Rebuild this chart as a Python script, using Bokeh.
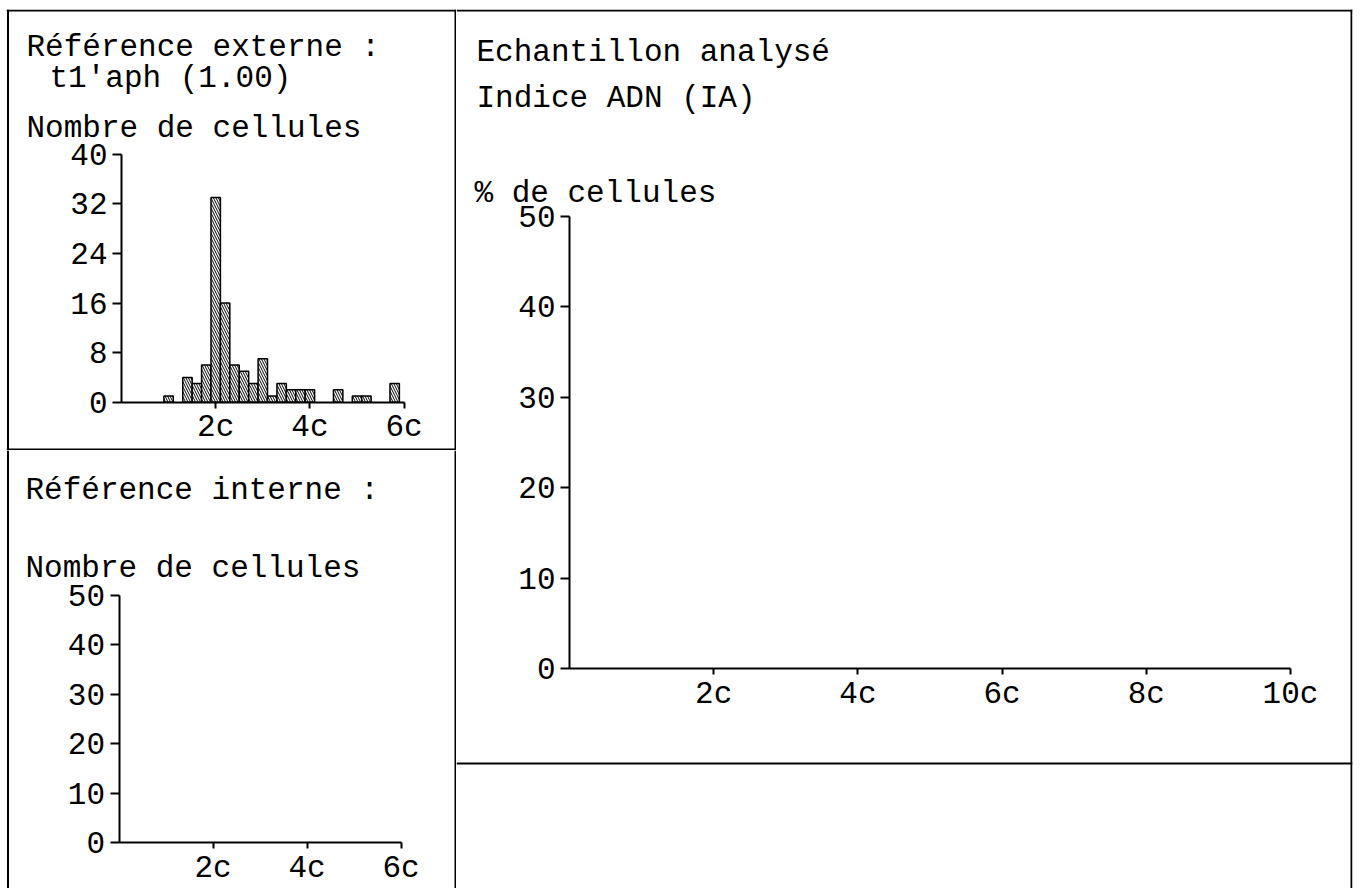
from bokeh.plotting import figure
from bokeh.models import LinearAxis, FixedTicker, Label, Span, Range1d
from bokeh.layouts import row, column
from bokeh.embed import file_html
from bokeh.resources import INLINE

# ---------------- data ----------------
# external reference histogram (DNA content in c units, cell counts)
ext_bins = [1.0, 1.4, 1.6, 1.8, 2.0, 2.2, 2.4, 2.6, 2.8, 3.0, 3.2, 3.4, 3.6, 3.8, 4.0, 4.6, 5.0, 5.2, 5.8]
ext_counts = [1, 4, 3, 6, 33, 16, 6, 5, 3, 7, 1, 3, 2, 2, 2, 2, 1, 1, 3]
bin_width = 0.2

ext_yticks = [0, 8, 16, 24, 32, 40]
int_yticks = [0, 10, 20, 30, 40, 50]
pct_yticks = [0, 10, 20, 30, 40, 50]
small_xticks = [2, 4, 6]
big_xticks = [2, 4, 6, 8, 10]
small_xlabels = ["2c", "4c", "6c"]
big_xlabels = ["2c", "4c", "6c", "8c", "10c"]

FONT = "Liberation Mono"
FS = "31px"
LW = 2


def make_fig(ox, oy, w, h, mb, x0px, pxc, y0px, pyu):
    ml, mt, mr, mbot = mb
    fx0, fx1 = ox + ml, ox + w - mr
    fy0, fy1 = oy + mt, oy + h - mbot
    p = figure(width=w, height=h, x_axis_type=None, y_axis_type=None,
               toolbar_location=None, output_backend="svg",
               min_border_left=ml, min_border_top=mt, min_border_right=mr,
               min_border_bottom=mbot, outline_line_color=None,
               background_fill_color="white", border_fill_color="white")
    p.x_range = Range1d((fx0 - x0px) / pxc, (fx1 - x0px) / pxc)
    p.y_range = Range1d((y0px - fy1) / pyu, (y0px - fy0) / pyu)
    p.grid.visible = False
    px = lambda X: (X - x0px) / pxc
    py = lambda Y: (y0px - Y) / pyu
    return p, px, py


def add_axes(p, yticks, xticks, xlabels):
    ya = LinearAxis(fixed_location=0, bounds=(0, yticks[-1]),
                    ticker=FixedTicker(ticks=yticks),
                    major_tick_out=9, major_tick_in=0,
                    minor_tick_out=0, minor_tick_in=0,
                    axis_line_width=LW, major_tick_line_width=LW,
                    major_label_text_font=FONT, major_label_text_font_size=FS,
                    major_label_text_color="black", major_label_standoff=5)
    xa = LinearAxis(fixed_location=0, bounds=(0, xticks[-1]),
                    ticker=FixedTicker(ticks=xticks),
                    major_label_overrides={t: l for t, l in zip(xticks, xlabels)},
                    major_tick_out=6, major_tick_in=0,
                    minor_tick_out=0, minor_tick_in=0,
                    axis_line_width=LW, major_tick_line_width=LW,
                    major_label_text_font=FONT, major_label_text_font_size=FS,
                    major_label_text_color="black", major_label_standoff=2)
    p.add_layout(ya, "left")
    p.add_layout(xa, "below")


def text(p, x, y, s):
    p.add_layout(Label(x=x, y=y, text=s, text_font=FONT, text_font_size=FS,
                       text_color="black", text_align="left",
                       text_baseline="alphabetic"))


def border(p, loc, dim):
    p.add_layout(Span(location=loc, dimension=dim, line_color="black",
                      line_width=LW))


# ---------- top-left : external reference ----------
tl, tx, ty = make_fig(0, 0, 456, 450, (6, 9, 0, 0), 121, 47.1, 401.7, 6.2)
border(tl, tx(7.5), "height")
border(tl, tx(455), "height")
border(tl, ty(10), "width")
border(tl, ty(449), "width")
add_axes(tl, ext_yticks, small_xticks, small_xlabels)
tl.vbar(x=ext_bins, top=ext_counts, width=bin_width, bottom=0,
        fill_color="white", line_color="black", line_width=1.5,
        hatch_pattern="\\", hatch_color="black", hatch_scale=5, hatch_weight=1)
text(tl, tx(26), ty(47), "Référence externe :")
text(tl, tx(49), ty(78), "t1'aph (1.00)")
text(tl, tx(26), ty(128), "Nombre de cellules")

# ---------- bottom-left : internal reference ----------
bl, bx, by = make_fig(0, 450, 456, 438, (6, 0, 0, 0), 118.5, 47.0, 842, 4.94)
border(bl, bx(7.5), "height")
border(bl, bx(455), "height")
add_axes(bl, int_yticks, small_xticks, small_xlabels)
text(bl, bx(25), by(490), "Référence interne :")
text(bl, bx(25), by(568), "Nombre de cellules")

# ---------- right : analysed sample ----------
rp, rx, ry = make_fig(456, 0, 906, 888, (0, 9, 10, 0), 569, 72.1, 668, 9.04)
border(rp, rx(1351), "height")
border(rp, ry(10), "width")
border(rp, ry(763), "width")
add_axes(rp, pct_yticks, big_xticks, big_xlabels)
text(rp, rx(476), ry(52), "Echantillon analysé")
text(rp, rx(476), ry(98), "Indice ADN (IA)")
text(rp, rx(474), ry(193), "% de cellules")

layout = row(column(tl, bl, spacing=0), rp, spacing=0)
open("out.html", "w").write(file_html(layout, INLINE))
